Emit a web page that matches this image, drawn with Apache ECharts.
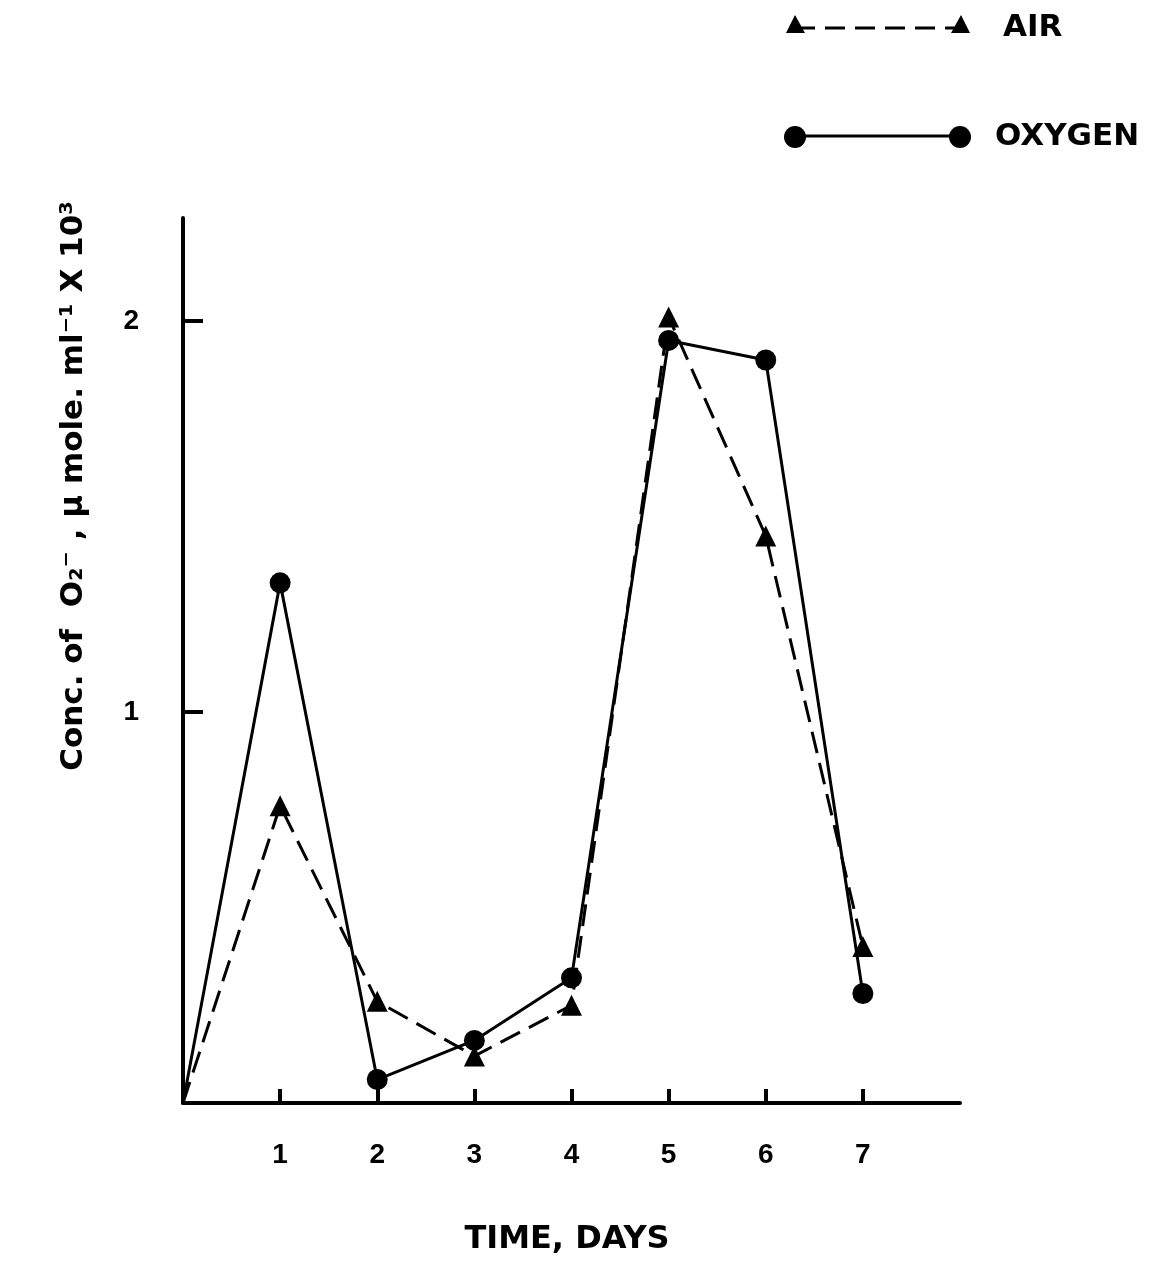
<!DOCTYPE html>
<html><head><meta charset="utf-8">
<script src="https://cdn.jsdelivr.net/npm/echarts@6/dist/echarts.min.js"></script>
<style>html,body{margin:0;padding:0;background:#fff}#c{width:1158px;height:1262px}</style>
</head><body><div id="c"></div>
<script>
const days = [0, 1, 2, 3, 4, 5, 6, 7];
const airValues = [0, 0.76, 0.26, 0.12, 0.25, 2.01, 1.45, 0.40];
const oxygenValues = [0, 1.33, 0.06, 0.16, 0.32, 1.95, 1.90, 0.28];
const xTickLabels = [1, 2, 3, 4, 5, 6, 7];
const yTickLabels = [1, 2];

const chart = echarts.init(document.getElementById('c'));
const font = '"Liberation Sans", "DejaVu Sans", sans-serif';
const wide = '"DejaVu Sans", sans-serif';
function toData(vals) {
  return days.map((d, i) => d === 0 ? { value: [d, vals[i]], symbol: 'none' } : [d, vals[i]]);
}
chart.setOption({
  animation: false,
  backgroundColor: '#fff',
  grid: { left: 183, right: 198, top: 218, bottom: 159 },
  xAxis: {
    type: 'value', min: 0, max: 8, interval: 1,
    axisLine: { show: true, onZero: false, lineStyle: { color: '#000', width: 4 } },
    axisTick: { show: true, inside: true, length: 14, customValues: xTickLabels, lineStyle: { color: '#000', width: 4 } },
    axisLabel: { customValues: xTickLabels, margin: 38, color: '#000', fontSize: 28, fontWeight: 'bold', fontFamily: font },
    splitLine: { show: false }
  },
  yAxis: {
    type: 'value', min: 0, max: 2.263, interval: 1,
    axisLine: { show: true, onZero: false, lineStyle: { color: '#000', width: 4 } },
    axisTick: { show: true, inside: true, length: 20, customValues: yTickLabels, lineStyle: { color: '#000', width: 4 } },
    axisLabel: { customValues: yTickLabels, margin: 44, color: '#000', fontSize: 28, fontWeight: 'bold', fontFamily: font },
    splitLine: { show: false }
  },
  series: [
    {
      name: 'AIR', type: 'line',
      data: toData(airValues),
      symbol: 'triangle', symbolSize: 21, showSymbol: true,
      itemStyle: { color: '#000' },
      lineStyle: { color: '#000', width: 3, type: [22, 10] },
      z: 3
    },
    {
      name: 'OXYGEN', type: 'line',
      data: toData(oxygenValues),
      symbol: 'circle', symbolSize: 21, showSymbol: true,
      itemStyle: { color: '#000' },
      lineStyle: { color: '#000', width: 3 },
      z: 4
    }
  ],
  graphic: [
    { type: 'text', x: 74, y: 486, rotation: Math.PI / 2,
      style: { text: 'Conc. of  O\u2082\u207B , \u03BC mole. ml\u207B\u00B9 X 10\u00B3', fill: '#000', font: 'bold 31px ' + wide, align: 'center', verticalAlign: 'middle' } },
    { type: 'text', x: 567, y: 1240,
      style: { text: 'TIME, DAYS', fill: '#000', font: 'bold 32px ' + wide, align: 'center', verticalAlign: 'middle' } },
    { type: 'line', shape: { x1: 795, y1: 28, x2: 963, y2: 28 }, style: { stroke: '#000', lineWidth: 3, lineDash: [20, 10] } },
    { type: 'polygon', shape: { points: [[786, 33], [805, 33], [795, 15]] }, style: { fill: '#000' } },
    { type: 'polygon', shape: { points: [[951, 33], [970, 33], [961, 15]] }, style: { fill: '#000' } },
    { type: 'text', x: 1003, y: 28, style: { text: 'AIR', fill: '#000', font: 'bold 31px ' + wide, verticalAlign: 'middle' } },
    { type: 'line', shape: { x1: 795, y1: 136, x2: 960, y2: 136 }, style: { stroke: '#000', lineWidth: 3 } },
    { type: 'circle', shape: { cx: 795, cy: 137, r: 11 }, style: { fill: '#000' } },
    { type: 'circle', shape: { cx: 960, cy: 137, r: 11 }, style: { fill: '#000' } },
    { type: 'text', x: 995, y: 137, style: { text: 'OXYGEN', fill: '#000', font: 'bold 31px ' + wide, verticalAlign: 'middle' } }
  ]
});
</script></body></html>
